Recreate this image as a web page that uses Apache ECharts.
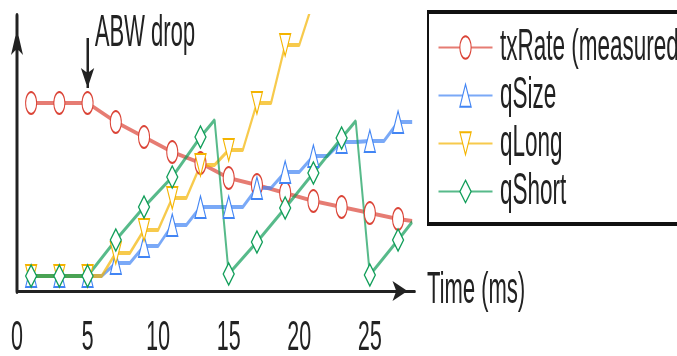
<!DOCTYPE html>
<html lang="en">
<head>
<meta charset="UTF-8">
<title>ABW drop - txRate and queue sizes</title>
<script src="https://cdn.jsdelivr.net/npm/echarts@6/dist/echarts.min.js"></script>
<style>
    html, body {
        margin: 0;
        padding: 0;
        width: 677px;
        height: 356px;
        overflow: hidden;
        background: #fff;
    }
    /* the figure is squeezed sideways: draw it twice as wide, then squash it */
    #chart {
        width: 1354px;
        height: 356px;
        transform: scaleX(0.5);
        transform-origin: 0 0;
    }
</style>
</head>
<body>
<div id="chart"></div>
<script>
    // values (y in arbitrary units, 0 = time axis)
    var xTicks = [0, 5, 10, 15, 20, 25];

    var txTime = [1, 3, 5, 7, 9, 11, 13, 15, 17, 19, 21, 23, 25, 27, 28];
    var txRate = [188, 188, 188, 169, 154, 139, 128, 113, 106, 98, 90, 84, 78, 72, 70];

    var qSizeTime = [1, 2, 3, 4, 5, 6, 7, 8, 9, 10, 11, 12, 13, 14, 15, 16, 17, 18, 19, 20, 21, 22, 23, 24, 25, 26, 27, 28];
    var qSize = [15, 15, 15, 15, 15, 15, 28, 28, 45, 45, 66, 66, 84, 84, 84, 84, 103, 103, 119, 119, 135, 135, 149, 149, 150, 150, 169, 169];

    var qLongTime = [1, 2, 3, 4, 5, 6, 7, 8, 9, 10, 11, 12, 13, 14, 15, 16, 17, 18, 19, 20, 21];
    var qLong = [15, 15, 15, 15, 15, 15, 38, 38, 61, 61, 93, 93, 126, 126, 141, 141, 188, 188, 246, 246, 290];

    var qShortTime = [1, 3, 5, 7, 9, 11, 13, 14, 15, 17, 19, 21, 23, 24, 25, 27, 28];
    var qShort = [15, 15, 15, 51, 84, 114, 154, 171, 17, 49, 83, 118, 153, 170, 16, 51, 69];

    var dropTime = 5;
    var dropLabel = "ABW drop";

    var font = "Liberation Sans";
    var ink = "#222";

    function zip(xs, ys) {
        return xs.map(function (x, i) {
            return [x, ys[i]];
        });
    }

    // markers only on the odd milliseconds
    function markerSize(v) {
        return v[0] % 2 === 1 ? 22 : 0;
    }

    function lineSeries(name, color, symbol, data) {
        return {
            name: name,
            type: "line",
            data: data,
            symbol: symbol,
            symbolSize: markerSize,
            lineStyle: {color: color, width: 4, opacity: 0.7},
            itemStyle: {color: color, borderWidth: 4},
            emphasis: {disabled: true}
        };
    }

    var myChart = echarts.init(document.getElementById("chart"));

    var txSeries = lineSeries("txRate (measured)", "#DB4437", "emptyCircle", zip(txTime, txRate));
    txSeries.markLine = {
        silent: true,
        symbol: ["none", "arrow"],
        symbolSize: 20,
        label: {show: false},
        lineStyle: {color: ink, width: 5, type: "solid", opacity: 1},
        data: [[{coord: [dropTime, 253]}, {coord: [dropTime, 203]}]]
    };
    txSeries.markPoint = {
        silent: true,
        symbol: "circle",
        symbolSize: 1,
        itemStyle: {color: "rgba(0,0,0,0)"},
        label: {
            show: true,
            position: "right",
            distance: 14,
            formatter: dropLabel,
            fontFamily: font,
            fontSize: 44,
            color: ink
        },
        data: [{coord: [dropTime, 257]}]
    };

    var qLongSeries = lineSeries("qLong", "#F4B400", "emptyTriangle", zip(qLongTime, qLong));
    qLongSeries.symbolRotate = 180;

    myChart.setOption({
        animation: false,
        grid: {
            left: 34,
            right: 524,
            top: 16,
            bottom: 65,
            outerBoundsMode: "none"
        },
        legend: {
            orient: "vertical",
            left: 856,
            top: 12,
            padding: [13, 80, 10, 20],
            itemWidth: 108,
            itemHeight: 28,
            itemGap: 3,
            borderColor: "#111",
            borderWidth: 4,
            backgroundColor: "#fff",
            selectedMode: false,
            textStyle: {
                fontFamily: font,
                fontSize: 45,
                color: ink,
                padding: [0, 0, 0, 10]
            },
            data: ["txRate (measured)", "qSize", "qLong", "qShort"]
        },
        xAxis: {
            type: "value",
            min: 0,
            max: 28.2,
            interval: 5,
            name: "Time (ms)",
            nameLocation: "end",
            nameGap: 24,
            nameTextStyle: {
                fontFamily: font,
                fontSize: 44,
                color: ink,
                align: "left",
                verticalAlign: "middle"
            },
            axisLine: {
                show: true,
                onZero: false,
                symbol: ["none", "arrow"],
                symbolSize: [15, 30],
                symbolOffset: [0, -15],
                lineStyle: {color: ink, width: 3}
            },
            axisTick: {show: false},
            splitLine: {show: false},
            axisLabel: {
                customValues: xTicks,
                fontFamily: font,
                fontSize: 43,
                color: ink,
                margin: 26
            }
        },
        yAxis: {
            type: "value",
            min: 0,
            max: 275,
            axisLine: {
                show: true,
                onZero: false,
                symbol: ["none", "arrow"],
                symbolSize: [18, 26],
                symbolOffset: [0, -13],
                lineStyle: {color: ink, width: 6}
            },
            axisTick: {show: false},
            axisLabel: {show: false},
            splitLine: {show: false}
        },
        series: [
            txSeries,
            lineSeries("qSize", "#4285F4", "emptyTriangle", zip(qSizeTime, qSize)),
            qLongSeries,
            lineSeries("qShort", "#0F9D58", "emptyDiamond", zip(qShortTime, qShort))
        ]
    });
</script>
</body>
</html>
